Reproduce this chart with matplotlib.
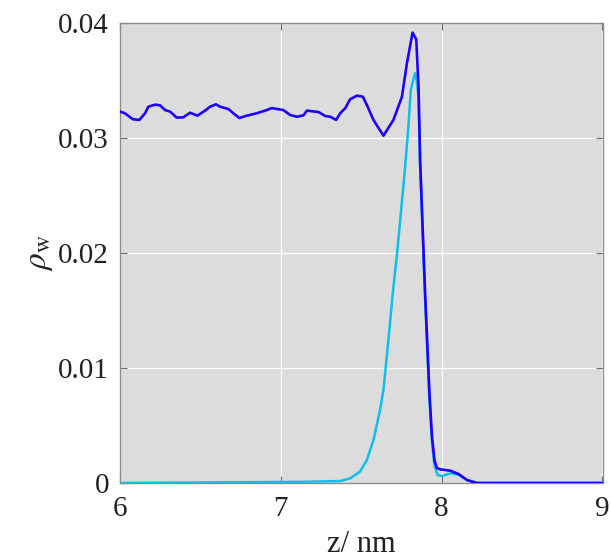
import matplotlib
matplotlib.use("Agg")
import matplotlib.pyplot as plt

# ---- data ----
blue_z = [6.00, 6.03, 6.08, 6.12, 6.156, 6.176, 6.218, 6.249, 6.28, 6.311, 6.353, 6.394,
          6.436, 6.481, 6.529, 6.56, 6.597, 6.622, 6.674, 6.705, 6.742, 6.788, 6.85, 6.902,
          6.944, 7.016, 7.058, 7.10, 7.141, 7.162, 7.234, 7.276, 7.307, 7.344, 7.369, 7.40,
          7.431, 7.473, 7.51, 7.535, 7.576, 7.638, 7.70, 7.753, 7.784, 7.819, 7.842, 7.856,
          7.866, 7.897, 7.924, 7.94, 7.955, 7.97, 7.991, 8.054, 8.105, 8.157, 8.22, 9.0]
blue_rho = [0.0323, 0.03215, 0.03163, 0.03157, 0.03215, 0.03272, 0.0329, 0.03284, 0.03243,
            0.0323, 0.03177, 0.0318, 0.0322, 0.03194, 0.03238, 0.03272, 0.03293, 0.03272,
            0.03252, 0.03215, 0.03174, 0.03194, 0.03215, 0.03238, 0.0326, 0.03243, 0.032,
            0.03185, 0.03197, 0.03238, 0.03226, 0.03191, 0.03185, 0.03157, 0.03215, 0.03258,
            0.03337, 0.03368, 0.03359, 0.03287, 0.03157, 0.0302, 0.03157, 0.03359, 0.0365,
            0.03916, 0.03858, 0.0345, 0.0281, 0.0165, 0.0078, 0.0040, 0.0020, 0.0013,
            0.00119, 0.00107, 0.00078, 0.00026, 0.0, 0.0]

cyan_z = [6.0, 7.12, 7.369, 7.431, 7.493, 7.535, 7.576, 7.617, 7.638, 7.667, 7.696, 7.723,
          7.748, 7.771, 7.793, 7.808, 7.818, 7.835, 7.845, 7.856, 7.866, 7.897, 7.924, 7.94,
          7.955, 7.975, 8.0, 8.054, 8.105, 8.157, 8.22, 9.0]
cyan_rho = [0.0, 0.0001, 0.00017, 0.0004, 0.001, 0.002, 0.00374, 0.00635, 0.00809, 0.01215,
            0.0165, 0.0200, 0.02374, 0.02722, 0.03098, 0.03417, 0.03476, 0.03563, 0.03504,
            0.0335, 0.0275, 0.0160, 0.0072, 0.0035, 0.0015, 0.0007, 0.0006, 0.00084, 0.00072,
            0.00026, 0.0, 0.0]

x_ticks = [6, 7, 8, 9]
y_ticks = [0, 0.01, 0.02, 0.03, 0.04]
y_ticklabels = ["0", "0.01", "0.02", "0.03", "0.04"]

plt.rcParams['font.family'] = ['Liberation Serif', 'DejaVu Serif']
plt.rcParams['mathtext.fontset'] = 'stix'

fig = plt.figure(figsize=(6.11, 5.59), dpi=100)
ax = fig.add_axes([120/611, 1-483/559, (602.5-120)/611, (483-23)/559])
ax.set_facecolor('#DCDCDC')

ax.plot(cyan_z, cyan_rho, color='#10BEEE', lw=1.8, zorder=3)
ax.plot(blue_z, blue_rho, color='#1E00FF', lw=1.9, zorder=4)

ax.set_xlim(6, 9)
ax.set_ylim(0, 0.04)
ax.set_xticks(x_ticks)
ax.set_xticklabels([str(t) for t in x_ticks])
ax.set_yticks(y_ticks)
ax.set_yticklabels(y_ticklabels)

ax.grid(True, color='white', lw=0.9)
ax.set_axisbelow(True)
for s in ax.spines.values():
    s.set_color('#8C8C8C')
    s.set_linewidth(1.0)

ax.tick_params(direction='in', length=5, width=0.8, color='#6E6E6E',
               labelsize=21, labelcolor='#222222', top=True, right=True)
ax.tick_params(axis='x', pad=9)
ax.tick_params(axis='y', pad=8)

ax.set_xlabel('z/ nm', fontsize=22, color='#222222', labelpad=6)
ax.set_ylabel(r'$\rho_{\rm w}$', fontsize=24, color='#222222', labelpad=2)

fig.savefig('out.png', dpi=100)
